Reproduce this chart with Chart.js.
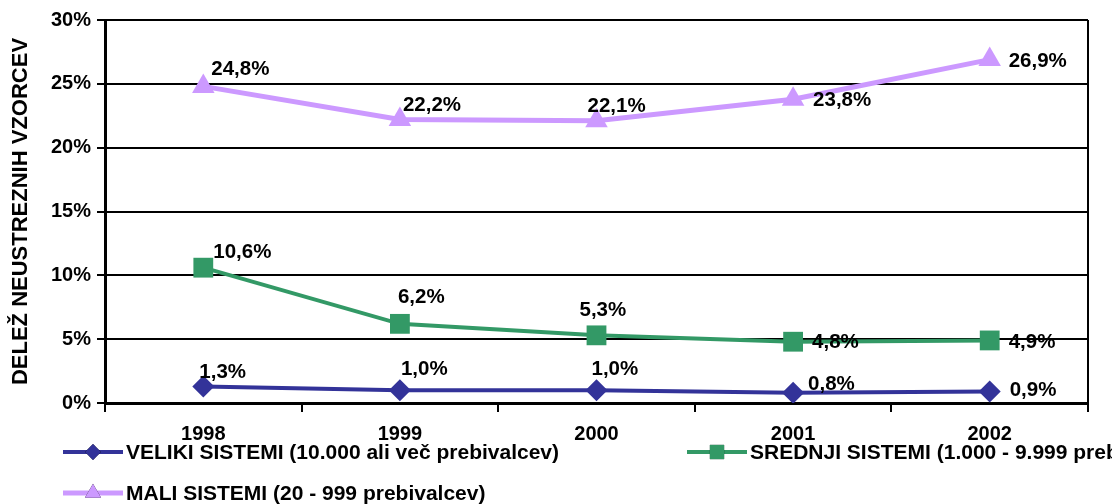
<!DOCTYPE html>
<html>
<head>
<meta charset="utf-8">
<script src="https://cdn.jsdelivr.net/npm/chart.js@4.4.1/dist/chart.umd.min.js"></script>
<style>
html,body{margin:0;padding:0;background:#fff;}
#wrap{width:1112px;height:504px;position:relative;}
</style>
</head>
<body>
<div id="wrap"><canvas id="c" width="1112" height="504"></canvas></div>
<script>
const categories = ['1998', '1999', '2000', '2001', '2002'];
const veliki = [1.3, 1.0, 1.0, 0.8, 0.9];
const srednji = [10.6, 6.2, 5.3, 4.8, 4.9];
const mali = [24.8, 22.2, 22.1, 23.8, 26.9];
const seriesNames = [
  'VELIKI SISTEMI (10.000 ali več prebivalcev)',
  'SREDNJI SISTEMI (1.000 - 9.999 prebivalcev)',
  'MALI SISTEMI (20 - 999 prebivalcev)'
];
const yTicks = [0, 5, 10, 15, 20, 25, 30];
const yTitle = 'DELEŽ NEUSTREZNIH VZORCEV';

const FONT = '"Liberation Sans", Arial, sans-serif';
const BLUE = '#333399', GREEN = '#339966', LAV = '#CC99FF';

// label offsets (style): [dx, dy] per point, text left-aligned, vertically centred
const labelOffsets = [
  [[-4,-14],[1,-21],[-5,-21],[15,-8],[20,-1]],
  [[10,-15],[-2,-27],[-17,-25],[19,1],[19,2]],
  [[8,-17],[3,-14],[-9,-15],[20,1],[19,2]]
];

const fmt = v => v.toFixed(1).replace('.', ',') + '%';

const labelPlugin = {
  id: 'labels',
  afterDatasetsDraw(chart) {
    const ctx = chart.ctx;
    ctx.save();
    ctx.font = 'bold 20.5px ' + FONT;
    ctx.fillStyle = '#000';
    ctx.textAlign = 'left';
    ctx.textBaseline = 'middle';
    chart.data.datasets.forEach((ds, i) => {
      const meta = chart.getDatasetMeta(i);
      meta.data.forEach((pt, j) => {
        const o = labelOffsets[i][j];
        ctx.fillText(fmt(ds.data[j]), pt.x + o[0], pt.y + o[1]);
      });
    });
    ctx.restore();
  }
};

const framePlugin = {
  id: 'frame',
  afterDraw(chart) {
    const ctx = chart.ctx, a = chart.chartArea;
    ctx.save();
    ctx.strokeStyle = '#000';
    ctx.lineWidth = 2;
    ctx.beginPath();
    ctx.moveTo(a.right, a.top);
    ctx.lineTo(a.right, a.bottom);
    ctx.stroke();
    ctx.restore();
  }
};

const legendPlugin = {
  id: 'customLegend',
  afterDraw(chart) {
    const ctx = chart.ctx;
    const items = [
      {x: 63, y: 452, ds: 0},
      {x: 687, y: 452, ds: 1},
      {x: 63, y: 493, ds: 2}
    ];
    ctx.save();
    items.forEach(it => {
      const ds = chart.data.datasets[it.ds];
      ctx.strokeStyle = ds.borderColor;
      ctx.lineWidth = ds.borderWidth;
      ctx.beginPath();
      ctx.moveTo(it.x, it.y);
      ctx.lineTo(it.x + 60, it.y);
      ctx.stroke();
      Chart.helpers.drawPoint(ctx, {
        pointStyle: ds.pointStyle,
        radius: ds.pointRadius * 0.72,
        rotation: 0,
        borderWidth: 0
      }, it.x + 30, it.y);
      ctx.fillStyle = ds.backgroundColor;
      ctx.fill();
      ctx.fillStyle = '#000';
      ctx.font = 'bold 21px ' + FONT;
      ctx.textAlign = 'left';
      ctx.textBaseline = 'middle';
      ctx.fillText(ds.label, it.x + 63, it.y + 1);
    });
    ctx.restore();
  }
};

new Chart(document.getElementById('c'), {
  type: 'line',
  data: {
    labels: categories,
    datasets: [
      {label: seriesNames[0], data: veliki, borderColor: BLUE, backgroundColor: BLUE,
       borderWidth: 4, pointStyle: 'rectRot', pointRadius: 11, pointBorderWidth: 0, pointHoverRadius: 11},
      {label: seriesNames[1], data: srednji, borderColor: GREEN, backgroundColor: GREEN,
       borderWidth: 4, pointStyle: 'rect', pointRadius: 14, pointBorderWidth: 0, pointHoverRadius: 14},
      {label: seriesNames[2], data: mali, borderColor: LAV, backgroundColor: LAV,
       borderWidth: 5, pointStyle: 'triangle', pointRadius: 13, pointBorderWidth: 0, pointHoverRadius: 13}
    ]
  },
  options: {
    responsive: false,
    animation: false,
    layout: {padding: {top: 20, right: 24, left: 0, bottom: 0}},
    plugins: {legend: {display: false}, tooltip: {enabled: false}},
    elements: {line: {tension: 0}},
    scales: {
      x: {
        offset: true,
        grid: {offset: true, drawOnChartArea: false, color: '#000', lineWidth: 2, tickLength: 9, tickColor: '#000'},
        border: {color: '#000', width: 3},
        ticks: {color: '#000', font: {family: FONT, size: 20, weight: 'bold'}, padding: 10},
        afterFit(s) { s.height = 101; }
      },
      y: {
        min: 0, max: 30,
        afterBuildTicks(s) { s.ticks = yTicks.map(v => ({value: v})); },
        grid: {color: '#000', lineWidth: 2, tickLength: 8},
        border: {color: '#000', width: 3},
        ticks: {color: '#000', font: {family: FONT, size: 20, weight: 'bold'}, padding: 6,
                callback: v => v + '%'},
        title: {display: true, text: yTitle, color: '#000',
                font: {family: FONT, size: 22, weight: 'bold'}, padding: {top: 8, bottom: 0}},
        afterFit(s) { s.width = 105; }
      }
    }
  },
  plugins: [labelPlugin, framePlugin, legendPlugin]
});
</script>
</body>
</html>
